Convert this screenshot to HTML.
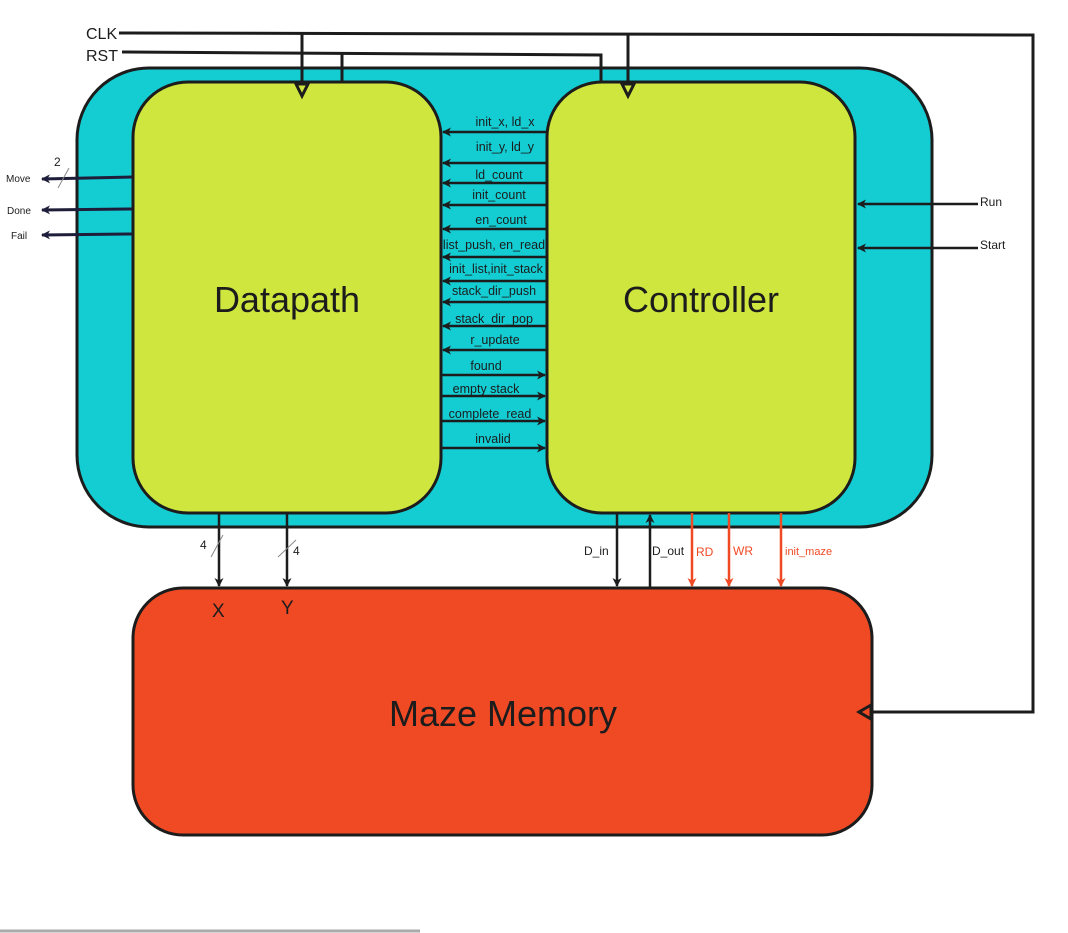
<!DOCTYPE html>
<html><head><style>body{margin:0;background:#fff}svg{display:block}text{font-family:"Liberation Sans","DejaVu Sans",sans-serif}</style></head><body>
<svg width="1068" height="933" viewBox="0 0 1068 933">
<defs>
<marker id="a" markerWidth="12" markerHeight="12" refX="9" refY="6" orient="auto" markerUnits="userSpaceOnUse"><path d="M1,1.5 L10,6 L1,10.5 L3.5,6 Z" fill="#1c1c1c"/></marker>
<marker id="ar" markerWidth="12" markerHeight="12" refX="9" refY="6" orient="auto" markerUnits="userSpaceOnUse"><path d="M1,1.5 L10,6 L1,10.5 L3.5,6 Z" fill="#f04a25"/></marker>
<marker id="an" markerWidth="12" markerHeight="12" refX="9" refY="6" orient="auto" markerUnits="userSpaceOnUse"><path d="M1,1.5 L10,6 L1,10.5 L3.5,6 Z" fill="#1e1e3a"/></marker>
</defs>
<rect x="77" y="68" width="855" height="459" rx="72" fill="#13cdd3" stroke="#1c1c1c" stroke-width="3"/>
<rect x="133" y="82" width="308" height="431" rx="55" fill="#cfe63e" stroke="#1c1c1c" stroke-width="3"/>
<rect x="547" y="82" width="308" height="431" rx="55" fill="#cfe63e" stroke="#1c1c1c" stroke-width="3"/>
<rect x="133" y="588" width="739" height="247" rx="50" fill="#f04a25" stroke="#1c1c1c" stroke-width="3"/>
<text x="287" y="312" font-size="36" text-anchor="middle" fill="#1c1c1c">Datapath</text>
<text x="701" y="312" font-size="36" text-anchor="middle" fill="#1c1c1c">Controller</text>
<text x="503" y="726" font-size="36" text-anchor="middle" fill="#1c1c1c">Maze Memory</text>
<g stroke="#1c1c1c" stroke-width="3" fill="none">
<path d="M119,33 L1033,35 L1033,712 L862,712"/>
<path d="M302,34 L302,84"/><path d="M628,34 L628,84"/>
<path d="M122,52 L601,55 L601,82"/><path d="M342,54 L342,82"/>
<path d="M296,84 L302,96 L308,84 Z" fill="#cfe63e"/>
<path d="M622,84 L628,96 L634,84 Z" fill="#cfe63e"/>
<path d="M871,705 L859,712 L871,719 Z" fill="#f04a25"/>
</g>
<g font-size="16" fill="#1c1c1c"><text x="86" y="39">CLK</text><text x="86" y="61">RST</text></g>
<g stroke="#1c1c1c" stroke-width="2.5">
<line x1="546" y1="132" x2="443" y2="132" marker-end="url(#a)"/>
<line x1="546" y1="163" x2="443" y2="163" marker-end="url(#a)"/>
<line x1="546" y1="183" x2="443" y2="183" marker-end="url(#a)"/>
<line x1="546" y1="205" x2="443" y2="205" marker-end="url(#a)"/>
<line x1="546" y1="229" x2="443" y2="229" marker-end="url(#a)"/>
<line x1="546" y1="257" x2="443" y2="257" marker-end="url(#a)"/>
<line x1="546" y1="281" x2="443" y2="281" marker-end="url(#a)"/>
<line x1="546" y1="302" x2="443" y2="302" marker-end="url(#a)"/>
<line x1="546" y1="326" x2="443" y2="326" marker-end="url(#a)"/>
<line x1="546" y1="350" x2="443" y2="350" marker-end="url(#a)"/>
<line x1="441" y1="375" x2="545" y2="375" marker-end="url(#a)"/>
<line x1="441" y1="396" x2="545" y2="396" marker-end="url(#a)"/>
<line x1="441" y1="421" x2="545" y2="421" marker-end="url(#a)"/>
<line x1="441" y1="448" x2="545" y2="448" marker-end="url(#a)"/>
</g>
<g font-size="12.5" fill="#1c1c1c" text-anchor="middle">
<text x="505" y="126">init_x, ld_x</text>
<text x="505" y="151">init_y, ld_y</text>
<text x="499" y="179">ld_count</text>
<text x="499" y="199">init_count</text>
<text x="501" y="224">en_count</text>
<text x="494" y="249">list_push, en_read</text>
<text x="496" y="273">init_list,init_stack</text>
<text x="494" y="295">stack_dir_push</text>
<text x="494" y="323">stack_dir_pop</text>
<text x="495" y="344">r_update</text>
<text x="486" y="370">found</text>
<text x="486" y="393">empty stack</text>
<text x="490" y="418">complete_read</text>
<text x="493" y="443">invalid</text>
</g>
<g stroke="#1e1e3a" stroke-width="3">
<line x1="132" y1="177" x2="42" y2="179" marker-end="url(#an)"/>
<line x1="132" y1="209" x2="42" y2="210" marker-end="url(#an)"/>
<line x1="132" y1="234" x2="42" y2="235" marker-end="url(#an)"/>
</g>
<line x1="58" y1="188" x2="69" y2="168" stroke="#888" stroke-width="1"/>
<g font-size="10" fill="#1c1c1c"><text x="6" y="182">Move</text><text x="7" y="214">Done</text><text x="11" y="239">Fail</text><text x="54" y="166" font-size="12">2</text></g>
<g stroke="#1c1c1c" stroke-width="2.5">
<line x1="978" y1="204" x2="858" y2="204" marker-end="url(#a)"/>
<line x1="978" y1="248" x2="858" y2="248" marker-end="url(#a)"/>
<line x1="219" y1="513" x2="219" y2="586" marker-end="url(#a)"/>
<line x1="287" y1="513" x2="287" y2="586" marker-end="url(#a)"/>
<line x1="617" y1="513" x2="617" y2="586" marker-end="url(#a)"/>
<line x1="650" y1="588" x2="650" y2="515" marker-end="url(#a)"/>
</g>
<line x1="211" y1="557" x2="223" y2="535" stroke="#888" stroke-width="1"/>
<line x1="278" y1="557" x2="296" y2="540" stroke="#888" stroke-width="1"/>
<g stroke="#f04a25" stroke-width="2.5">
<line x1="692" y1="513" x2="692" y2="586" marker-end="url(#ar)"/>
<line x1="729" y1="513" x2="729" y2="586" marker-end="url(#ar)"/>
<line x1="781" y1="513" x2="781" y2="586" marker-end="url(#ar)"/>
</g>
<g font-size="12" fill="#1c1c1c"><text x="980" y="206">Run</text><text x="980" y="249">Start</text>
<text x="200" y="549">4</text><text x="293" y="555">4</text>
<text x="584" y="555">D_in</text><text x="652" y="555">D_out</text>
<text x="212" y="617" font-size="19">X</text><text x="281" y="614" font-size="19">Y</text></g>
<g font-size="12" fill="#f04a25"><text x="696" y="556">RD</text><text x="733" y="555">WR</text><text x="785" y="555" font-size="11">init_maze</text></g>
<line x1="0" y1="931" x2="420" y2="931" stroke="#aaa" stroke-width="3"/>
</svg>
</body></html>
